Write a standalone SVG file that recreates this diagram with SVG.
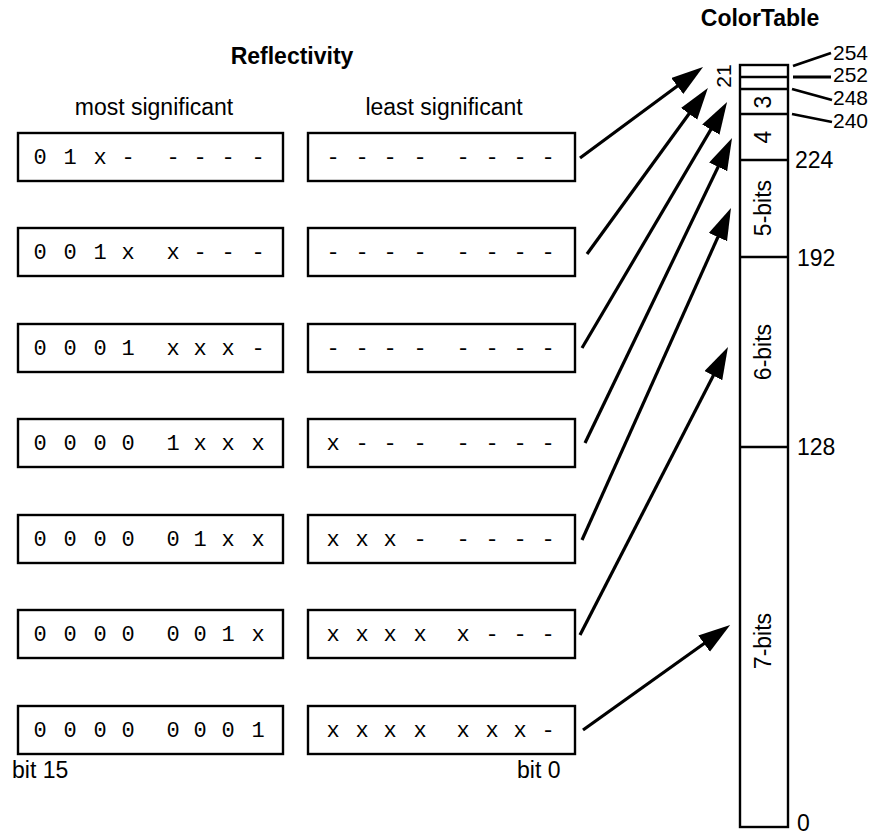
<svg xmlns="http://www.w3.org/2000/svg" width="874" height="835" viewBox="0 0 874 835">
<style>
.box{fill:#fff;stroke:#000;stroke-width:2.4}
.bits{font-family:"Liberation Mono","Courier New",monospace;font-size:22px;fill:#000;text-anchor:middle}
.lbl{font-family:"Liberation Sans",Arial,sans-serif;font-size:23px;fill:#000}
.num{font-family:"Liberation Sans",Arial,sans-serif;font-size:21px;fill:#000}
.ttl{font-family:"Liberation Sans",Arial,sans-serif;font-size:23px;font-weight:bold;fill:#000;text-anchor:middle}
.mid{text-anchor:middle}
.conn{stroke:#000;stroke-width:3.2;fill:none;marker-end:url(#ah)}
.lead{stroke:#000;stroke-width:2.8;fill:none}
.tbl{fill:#fff;stroke:#000;stroke-width:2.4}
.tline{stroke:#000;stroke-width:2.4}
</style>
<defs>
<marker id="ah" markerUnits="userSpaceOnUse" markerWidth="34" markerHeight="22" refX="22" refY="10" orient="auto">
<path d="M0,0 L32,10 L0,20 z" fill="#000"/>
</marker>
</defs>

<text id="title-reflectivity" class="ttl" x="292" y="64">Reflectivity</text>
<text id="label-most" class="lbl mid" x="154" y="115">most significant</text>
<text id="label-least" class="lbl mid" x="444" y="115">least significant</text>
<text id="label-bit15" class="lbl" x="12" y="778">bit 15</text>
<text id="label-bit0" class="lbl" x="517" y="778">bit 0</text>

<g id="row1-msb"><rect class="box" x="18" y="133" width="265" height="48"/><text class="bits" x="40 70 100 128 173 200 228 258" y="164">01x-----</text></g>
<g id="row1-lsb"><rect class="box" x="308" y="133" width="267" height="48"/><text class="bits" x="333 362 390 420 463 492 520 548" y="164">--------</text></g>

<g id="row2-msb"><rect class="box" x="18" y="228" width="265" height="48"/><text class="bits" x="40 70 100 128 173 200 228 258" y="259">001xx---</text></g>
<g id="row2-lsb"><rect class="box" x="308" y="228" width="267" height="48"/><text class="bits" x="333 362 390 420 463 492 520 548" y="259">--------</text></g>

<g id="row3-msb"><rect class="box" x="18" y="324" width="265" height="48"/><text class="bits" x="40 70 100 128 173 200 228 258" y="355">0001xxx-</text></g>
<g id="row3-lsb"><rect class="box" x="308" y="324" width="267" height="48"/><text class="bits" x="333 362 390 420 463 492 520 548" y="355">--------</text></g>

<g id="row4-msb"><rect class="box" x="18" y="419" width="265" height="48"/><text class="bits" x="40 70 100 128 173 200 228 258" y="450">00001xxx</text></g>
<g id="row4-lsb"><rect class="box" x="308" y="419" width="267" height="48"/><text class="bits" x="333 362 390 420 463 492 520 548" y="450">x-------</text></g>

<g id="row5-msb"><rect class="box" x="18" y="515" width="265" height="48"/><text class="bits" x="40 70 100 128 173 200 228 258" y="546">000001xx</text></g>
<g id="row5-lsb"><rect class="box" x="308" y="515" width="267" height="48"/><text class="bits" x="333 362 390 420 463 492 520 548" y="546">xxx-----</text></g>

<g id="row6-msb"><rect class="box" x="18" y="610" width="265" height="48"/><text class="bits" x="40 70 100 128 173 200 228 258" y="641">0000001x</text></g>
<g id="row6-lsb"><rect class="box" x="308" y="610" width="267" height="48"/><text class="bits" x="333 362 390 420 463 492 520 548" y="641">xxxxx---</text></g>

<g id="row7-msb"><rect class="box" x="18" y="706" width="265" height="48"/><text class="bits" x="40 70 100 128 173 200 228 258" y="737">00000001</text></g>
<g id="row7-lsb"><rect class="box" x="308" y="706" width="267" height="48"/><text class="bits" x="333 362 390 420 463 492 520 548" y="737">xxxxxxx-</text></g>

<g id="colortable">
<text class="ttl" x="760" y="26">ColorTable</text>
<rect class="tbl" x="740" y="65" width="48" height="762"/>
<line class="tline" x1="740" y1="77" x2="788" y2="77"/>
<line class="tline" x1="740" y1="89" x2="788" y2="89"/>
<line class="tline" x1="740" y1="114" x2="788" y2="114"/>
<line class="tline" x1="740" y1="160" x2="788" y2="160"/>
<line class="tline" x1="740" y1="257" x2="788" y2="257"/>
<line class="tline" x1="740" y1="447" x2="788" y2="447"/>
<text class="lbl mid" transform="translate(731,76) rotate(-90)" style="font-size:21px">21</text>
<text class="lbl mid" transform="translate(771,102) rotate(-90)">3</text>
<text class="lbl mid" transform="translate(771,137) rotate(-90)">4</text>
<text class="lbl mid" transform="translate(771,208) rotate(-90)">5-bits</text>
<text class="lbl mid" transform="translate(771,352) rotate(-90)">6-bits</text>
<text class="lbl mid" transform="translate(771,641) rotate(-90)">7-bits</text>
<line class="lead" x1="793" y1="66" x2="831" y2="53"/>
<line class="lead" x1="793" y1="77" x2="831" y2="77"/>
<line class="lead" x1="792" y1="89" x2="832" y2="100"/>
<line class="lead" x1="792" y1="114" x2="832" y2="122"/>
<text class="num" x="833" y="60">254</text>
<text class="num" x="833" y="82">252</text>
<text class="num" x="833" y="105">248</text>
<text class="num" x="833" y="128">240</text>
<text class="lbl" x="795" y="168">224</text>
<text class="lbl" x="797" y="266">192</text>
<text class="lbl" x="797" y="455">128</text>
<text class="lbl" x="797" y="831">0</text>
</g>

<g id="connectors">
<line class="conn" x1="580" y1="158" x2="695" y2="73"/>
<line class="conn" x1="587" y1="254" x2="702" y2="96"/>
<line class="conn" x1="582" y1="348" x2="722" y2="110.6"/>
<line class="conn" x1="585" y1="443" x2="727.7" y2="147"/>
<line class="conn" x1="582" y1="540" x2="726.9" y2="217"/>
<line class="conn" x1="580" y1="635" x2="723.4" y2="356"/>
<line class="conn" x1="583" y1="730" x2="722" y2="630.8"/>
</g>
</svg>
